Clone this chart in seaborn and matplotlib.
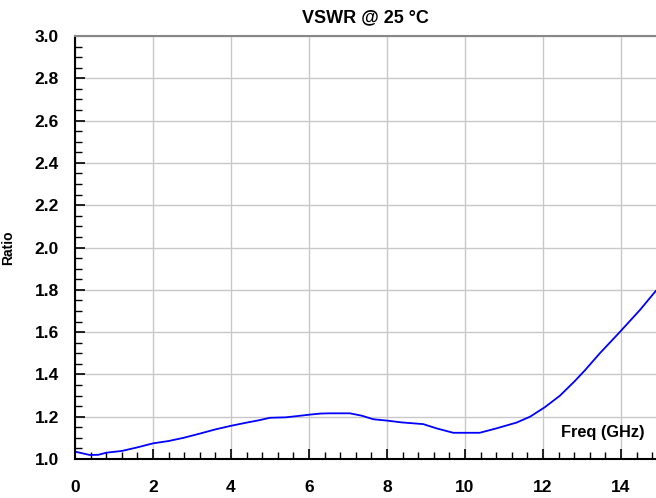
import numpy as np
import pandas as pd
import matplotlib
matplotlib.use("Agg")
import matplotlib.pyplot as plt
import seaborn as sns
from matplotlib.ticker import MultipleLocator

# values
freq = [0.0, 0.38, 0.6, 0.81, 1.2, 1.6, 2.0, 2.4, 2.78, 3.2, 3.6, 4.0, 4.4, 4.74, 5.0,
        5.4, 5.7, 6.03, 6.3, 6.54, 7.05, 7.35, 7.65, 8.03, 8.38, 8.93, 9.27, 9.7,
        10.38, 10.81, 11.32, 11.67, 12.05, 12.44, 12.82, 13.08, 13.46, 13.97, 14.49, 14.9]
vswr = [1.035, 1.019, 1.02, 1.03, 1.038, 1.055, 1.074, 1.085, 1.10, 1.12, 1.14, 1.157,
        1.172, 1.184, 1.195, 1.197, 1.203, 1.21, 1.215, 1.216, 1.216, 1.205, 1.188,
        1.181, 1.173, 1.165, 1.145, 1.124, 1.124, 1.145, 1.172, 1.20, 1.245, 1.30,
        1.369, 1.42, 1.50, 1.60, 1.705, 1.796]

df = pd.DataFrame({"Freq": freq, "Ratio": vswr})

sns.set_style("white")
plt.rcParams["font.family"] = ["Liberation Sans", "DejaVu Sans"]
plt.rcParams["font.weight"] = "bold"
plt.rcParams["text.color"] = "black"
plt.rcParams["axes.labelcolor"] = "black"
plt.rcParams["xtick.color"] = "black"
plt.rcParams["ytick.color"] = "black"

fig = plt.figure(figsize=(6.56, 4.98), dpi=100)
ax = fig.add_axes([0.1143, 0.0783, 0.8857, 0.8494])

sns.lineplot(data=df, x="Freq", y="Ratio", color="#0000ff", linewidth=1.3, ax=ax)

ax.set_xlim(0, 14.9)
ax.set_ylim(1.0, 3.0)
ax.xaxis.set_major_locator(MultipleLocator(2))
ax.xaxis.set_minor_locator(MultipleLocator(0.4))
ax.yaxis.set_major_locator(MultipleLocator(0.2))
ax.yaxis.set_minor_locator(MultipleLocator(0.05))
ax.set_yticks(np.arange(1.0, 3.01, 0.2))
ax.set_yticklabels([f"{v:.1f}" for v in np.arange(1.0, 3.01, 0.2)])

ax.grid(True, which="major", color="#c8c8c8", linewidth=1.0)
ax.set_axisbelow(True)
ax.tick_params(bottom=True, left=True, which="both")
ax.tick_params(axis="x", which="major", direction="in", length=7, width=1.2,
               labelsize=12.5, pad=15)
ax.tick_params(axis="y", which="major", direction="in", length=7, width=1.2,
               labelsize=12.5, pad=11.5)
ax.tick_params(axis="both", which="minor", direction="in", length=5, width=1.0)
for lbl in ax.get_xticklabels() + ax.get_yticklabels():
    lbl.set_fontweight("bold")

ax.spines["left"].set_color("black")
ax.spines["left"].set_linewidth(1.5)
ax.spines["bottom"].set_color("black")
ax.spines["bottom"].set_linewidth(1.5)
ax.spines["top"].set_color("#888888")
ax.spines["top"].set_linewidth(1.5)
ax.spines["right"].set_visible(False)

ax.set_xlabel("")
ax.set_ylabel("Ratio", fontsize=10, fontweight="bold", labelpad=14)
ax.set_title("VSWR @ 25 °C", fontsize=13, fontweight="bold", pad=10)
ax.text(0.981, 0.0615, "Freq (GHz)", transform=ax.transAxes, ha="right", va="center",
        fontsize=11.8, fontweight="bold")

fig.savefig("out.png", dpi=100)
